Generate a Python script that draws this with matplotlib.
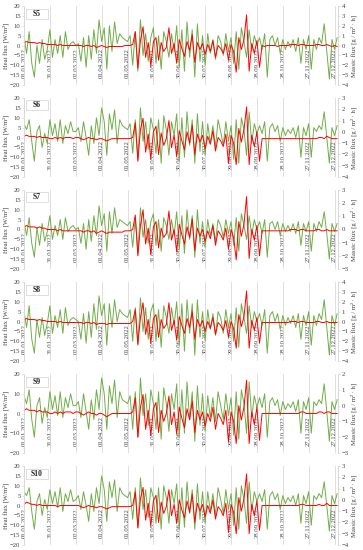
"""
Heat flux and massic flux for sensors S5-S10 over 2022 (six stacked panels).
"""

import matplotlib
matplotlib.use("Agg")
import matplotlib.pyplot as plt
import matplotlib.dates as mdates
import matplotlib.transforms as mtransforms
from matplotlib.patches import Rectangle
import pandas as pd

plt.rcParams["font.family"] = ["Liberation Serif", "DejaVu Serif"]

GREEN = "#70AD47"
RED = "#FF0000"
GRID = "#d9d9d9"
TEXT = "#404040"

# samples every third day of 2022
DAYS = pd.date_range("2022-01-01", periods=122, freq="3D")

TICK_LABELS = ["01.01.2022", "31.01.2022", "02.03.2022", "01.04.2022", "01.05.2022",
               "31.05.2022", "30.06.2022", "30.07.2022", "29.08.2022", "28.09.2022",
               "28.10.2022", "27.11.2022", "27.12.2022"]

SENSORS = ["S5", "S6", "S7", "S8", "S9", "S10"]

HEAT_S5 = [5, -4, 7, -9, -16, 0, -9, 3, -7, -2, 8,
           -6, 3, -4, 5, -6, 7, -2, 1, 2, 0,
           1, -8, 4, -11, 5, -7, 8, -4, 13, 2,
           9, -12, 10, -3, 12, 1, 6, 4, 3, 2,
           5, -10, 7, -13, 13, -5, 6, -8, 4, 9,
           -9, 5, -12, 7, 2, -6, 6, -3, 10, -11,
           8, -13, 12, -6, 8, -16, 11, -8, 5, -10,
           6, -4, 3, -7, 5, 2, -5, 6, -3, 4,
           -9, 7, -12, 9, 2, -6, 8, -3, 5, 0,
           4, -2, 6, -16, 3, 5, 0, 4, -4, 3,
           -2, 2, -1, 3, -3, 4, -9, 3, -2, 5,
           -12, 3, -2, 4, 1, 11, -3, -17, 3, -2, 4]
MASS_S5 = [0.3, 0.4, 0.3, 0.3, 0.3, 0.2, 0.3, 0.2, 0.2, 0.1, 0.1,
           0.1, 0.1, 0.0, 0.1, 0.0, 0.0, 0.0, 0.0, 0.0, 0.0,
           0.0, 0.0, -0.1, 0.0, 0.0, -0.1, 0.0, -0.2, -0.1, 0.0,
           -0.1, -0.2, -0.1, -0.1, -0.1, -0.1, -0.1, -0.1, 0.0, 0.0,
           0.0, 0.1, 1.4, -2.3, 0.5, 1.9, -1.2, 0.3, -2.1, 0.4,
           0.8, -1.5, 0.3, -0.6, -0.2, 1.8, -0.8, 0.2, -1.8, 0.6,
           -0.3, -1.1, 0.4, -0.5, 1.1, -1.7, 0.3, -0.4, 0.2, -0.9,
           0.1, -0.6, 0.5, -1.2, 0.0, -0.3, -0.8, 0.2, -1.5, 0.1,
           -0.6, -2.7, 0.8, -0.4, 0.6, 3.1, -2.6, 0.2, -0.8, 0.5,
           -2.2, 0.0, -0.1, 0.0, 0.0, 0.0, 0.0, -0.1, 0.0, 0.0,
           0.0, 0.0, 0.1, 0.1, 0.1, 0.0, 0.1, 0.1, 0.0, 0.0,
           0.0, 0.0, 0.1, 0.1, 0.0, 0.0, 0.1, 0.0, -0.1, 0.0, -0.1]

HEAT_S6 = [7, 4, 9, -2, -12, 3, 6, -5, 2, -3, 9,
           1, 7, -2, 9, -3, 6, 2, 8, 3, 3,
           5, -2, 8, 0, -9, 6, -3, 10, 1, 15,
           8, -9, 12, 4, 14, -3, 9, 6, 5, 4,
           7, -8, 9, -11, 15, -2, 8, -6, 10, 4,
           -8, 9, -13, 11, 4, -9, 8, 1, 12, -12,
           10, -10, 13, -4, 9, -13, 12, -7, 8, -9,
           7, -3, 6, -5, 9, 3, -4, 8, -2, 6,
           -11, 9, -13, 10, 4, -9, 13, -3, 7, 2,
           6, 2, 8, -12, 5, 7, 3, 6, -2, 5,
           1, 4, 2, 5, 0, 6, -10, 5, 1, 7,
           -10, 5, 3, 6, 4, 13, 0, -13, 5, 1, 6]
MASS_S6 = [-0.4, -0.3, -0.4, -0.4, -0.4, -0.5, -0.4, -0.5, -0.5, -0.5, -0.6,
           -0.6, -0.5, -0.6, -0.5, -0.6, -0.5, -0.5, -0.5, -0.6, -0.5,
           -0.5, -0.6, -0.7, -0.6, -0.5, -0.6, -0.6, -0.7, -0.6, -0.6,
           -0.7, -0.8, -0.7, -0.6, -0.6, -0.6, -0.6, -0.6, -0.6, -0.6,
           -0.6, -0.5, 0.8, -2.6, 0.2, 1.2, -1.8, -0.2, -2.4, 0.0,
           0.5, -2.0, -0.1, -1.2, -0.6, 1.0, -1.4, -0.3, -2.2, 0.1,
           -0.8, -1.6, 0.0, -1.0, 0.6, -2.0, -0.2, -0.9, -0.3, -1.5,
           -0.4, -1.1, 0.1, -1.7, -0.5, -0.8, -1.3, -0.2, -2.8, -0.3,
           -1.0, -2.9, 0.3, -0.9, 0.2, 2.2, -2.9, -0.3, -1.3, 0.0,
           -2.6, -0.6, -0.6, -0.6, -0.6, -0.6, -0.6, -0.6, -0.6, -0.6,
           -0.6, -0.6, -0.6, -0.6, -0.6, -0.6, -0.6, -0.6, -0.6, -0.6,
           -0.6, -0.6, -0.6, -0.5, -0.5, -0.6, -0.4, -0.5, -0.6, -0.6, -0.6]

HEAT_S7 = [4, -3, 6, -7, -14, 1, -8, 3, -6, -1, 7,
           -5, 2, -3, 5, -5, 6, -1, 1, 2, 0,
           1, -7, 3, -10, 5, -6, 7, -3, 12, 2,
           8, -11, 9, -2, 11, 1, 5, 4, 3, 2,
           4, -9, 6, -12, 11, -4, 5, -7, 4, 8,
           -8, 5, -11, 6, 2, -5, 5, -3, 9, -10,
           7, -12, 10, -5, 7, -14, 10, -7, 4, -9,
           5, -3, 3, -6, 5, 2, -4, 5, -2, 4,
           -8, 6, -11, 8, 2, -5, 7, -3, 5, 0,
           4, -2, 5, -14, 3, 4, 0, 4, -3, 3,
           -1, 2, -1, 3, -2, 4, -8, 3, -1, 4,
           -11, 3, -1, 4, 1, 9, -2, -15, 3, -1, 3]
MASS_S7 = [0.2, 0.3, 0.2, 0.2, 0.2, 0.1, 0.2, 0.1, 0.1, 0.0, 0.0,
           0.0, 0.0, -0.1, 0.0, -0.1, -0.1, -0.1, -0.1, -0.1, -0.1,
           -0.1, -0.1, -0.2, -0.1, -0.1, -0.2, -0.1, -0.3, -0.2, -0.1,
           -0.2, -0.3, -0.2, -0.2, -0.2, -0.2, -0.2, -0.2, -0.1, -0.1,
           -0.1, 0.0, 1.1, -2.0, 0.3, 1.5, -1.1, 0.1, -1.9, 0.2,
           0.6, -1.4, 0.1, -0.6, -0.3, 1.4, -0.8, 0.0, -1.7, 0.4,
           -0.4, -1.1, 0.2, -0.6, 0.8, -1.6, 0.1, -0.5, 0.0, -0.9,
           -0.1, -0.7, 0.3, -1.2, -0.1, -0.4, -0.8, 0.1, -1.5, 0.0,
           -0.6, -2.3, 0.6, -0.5, 0.4, 2.5, -2.2, 0.0, -0.8, 0.3,
           -2.0, -0.1, -0.1, -0.1, -0.1, -0.1, -0.1, -0.1, -0.1, -0.1,
           -0.1, -0.1, 0.0, 0.0, 0.0, -0.1, 0.0, 0.0, -0.1, -0.1,
           -0.1, -0.1, 0.0, 0.0, -0.1, -0.1, 0.0, -0.1, -0.1, -0.1, -0.1]

HEAT_S8 = [5, -3, 8, -9, -16, 1, -8, 2, -7, -1, 8,
           -6, 3, -3, 6, -6, 7, -2, 1, 2, 1,
           0, -9, 4, -11, 5, -8, 9, -4, 13, 3,
           9, -12, 9, -3, 11, 0, 6, 4, 3, 2,
           6, -10, 7, -12, 12, -5, 7, -9, 5, 9,
           -10, 6, -13, 8, 2, -6, 7, -2, 10, -12,
           9, -15, 11, -6, 9, -17, 11, -8, 5, -10,
           6, -4, 4, -7, 5, 2, -6, 6, -3, 4,
           -10, 7, -13, 9, 2, -6, 8, -3, 5, 0,
           4, -2, 6, -16, 3, 5, 0, 4, -4, 3,
           -2, 2, -1, 3, -3, 4, -9, 3, -2, 5,
           -12, 3, -2, 4, 1, 11, -3, -17, 3, -2, 4]
MASS_S8 = [0.2, 0.3, 0.2, 0.2, 0.2, 0.1, 0.2, 0.1, 0.1, 0.0, 0.0,
           0.0, 0.0, -0.1, 0.0, -0.1, -0.1, -0.1, -0.1, -0.1, -0.1,
           -0.1, -0.1, -0.2, -0.1, -0.1, -0.2, -0.1, -0.3, -0.2, -0.2,
           -0.2, -0.3, -0.2, -0.2, -0.2, -0.2, -0.2, -0.2, -0.2, -0.2,
           -0.2, 0.0, 1.2, -2.3, 0.4, 1.9, -1.3, 0.2, -2.2, 0.3,
           0.7, -1.6, 0.2, -0.7, -0.3, 1.9, -0.9, 0.1, -1.9, 0.5,
           -0.4, -1.2, 0.3, -0.6, 1.0, -1.8, 0.2, -0.5, 0.1, -1.0,
           0.0, -0.7, 0.4, -1.3, -0.1, -0.4, -0.9, 0.1, -1.6, 0.0,
           -0.7, -2.7, 0.7, -0.5, 0.5, 3.1, -2.7, 0.1, -0.9, 0.4,
           -2.2, -0.1, -0.1, -0.1, -0.1, -0.1, -0.1, -0.1, -0.1, -0.1,
           -0.1, -0.1, 0.0, 0.0, 0.0, -0.1, 0.0, 0.0, -0.1, -0.1,
           -0.1, -0.1, 0.0, 0.0, -0.1, -0.1, 0.0, -0.1, -0.1, -0.1, -0.1]

HEAT_S9 = [9, 5, 12, -3, -12, 4, 8, -5, 3, -2, 11,
           2, 9, -1, 11, -2, 8, 3, 10, 4, 4,
           6, -2, 10, 1, -8, 7, -3, 12, 2, 18,
           10, -8, 14, 5, 17, -2, 11, 7, 6, 5,
           9, -8, 11, -12, 18, -1, 10, -6, 12, 5,
           -8, 11, -13, 13, 5, -9, 10, 2, 15, -12,
           12, -10, 16, -3, 11, -14, 14, -6, 10, -9,
           9, -2, 8, -4, 11, 4, -3, 10, -1, 8,
           -11, 11, -13, 12, 5, -10, 16, -2, 9, 3,
           8, 3, 10, -12, 6, 8, 4, 7, -1, 6,
           2, 5, 3, 6, 1, 7, -10, 6, 2, 8,
           -10, 6, 4, 7, 5, 15, 1, -14, 6, 2, 7]
MASS_S9 = [-0.3, -0.2, -0.3, -0.3, -0.3, -0.4, -0.3, -0.4, -0.4, -0.4, -0.5,
           -0.5, -0.4, -0.5, -0.4, -0.5, -0.4, -0.4, -0.4, -0.5, -0.4,
           -0.4, -0.5, -0.6, -0.5, -0.4, -0.5, -0.5, -0.6, -0.5, -0.5,
           -0.6, -0.7, -0.6, -0.5, -0.5, -0.5, -0.5, -0.5, -0.5, -0.5,
           -0.5, -0.4, 0.5, -2.0, -0.1, 0.7, -1.5, -0.3, -1.9, -0.2,
           0.2, -1.7, -0.3, -1.0, -0.5, 0.6, -1.2, -0.4, -1.8, -0.1,
           -0.8, -1.4, -0.2, -0.9, 0.3, -1.7, -0.3, -0.9, -0.4, -1.3,
           -0.5, -1.0, -0.1, -1.5, -0.5, -0.8, -1.2, -0.3, -2.3, -0.4,
           -1.0, -2.4, 0.0, -0.9, -0.1, 1.6, -2.4, -0.4, -1.2, -0.1,
           -2.2, -0.5, -0.5, -0.5, -0.5, -0.5, -0.5, -0.5, -0.5, -0.5,
           -0.5, -0.5, -0.5, -0.5, -0.5, -0.5, -0.4, -0.4, -0.5, -0.5,
           -0.5, -0.5, -0.5, -0.4, -0.4, -0.5, -0.4, -0.4, -0.5, -0.5, -0.5]

HEAT_S10 = [7, 5, 9, -3, -12, 2, 6, -5, 3, -2, 8,
            1, 7, -1, 9, -3, 6, 2, 8, 2, 3,
            5, -2, 7, 0, -8, 6, -3, 9, 1, 15,
            8, -8, 12, 4, 13, -3, 9, 6, 5, 4,
            7, -7, 9, -11, 14, -2, 8, -6, 9, 4,
            -9, 9, -12, 10, 4, -9, 8, 1, 11, -12,
            9, -11, 12, -4, 8, -12, 11, -7, 7, -9,
            7, -3, 6, -5, 9, 3, -4, 8, -2, 6,
            -10, 9, -12, 10, 3, -9, 12, -3, 7, 2,
            6, 2, 8, -12, 5, 7, 3, 6, -2, 5,
            1, 4, 2, 5, 0, 6, -9, 5, 1, 7,
            -10, 5, 3, 6, 4, 12, 0, -13, 5, 1, 6]
MASS_S10 = [-0.4, -0.2, -0.3, -0.4, -0.4, -0.5, -0.4, -0.5, -0.5, -0.5, -0.5,
            -0.5, -0.5, -0.6, -0.5, -0.5, -0.5, -0.5, -0.5, -0.5, -0.5,
            -0.5, -0.6, -0.7, -0.6, -0.5, -0.6, -0.6, -0.7, -0.6, -0.6,
            -0.7, -0.8, -0.7, -0.6, -0.6, -0.6, -0.6, -0.6, -0.6, -0.6,
            -0.6, -0.5, 0.7, -2.5, 0.1, 1.1, -1.8, -0.3, -2.3, -0.1,
            0.4, -2.0, -0.2, -1.2, -0.6, 0.9, -1.4, -0.4, -2.1, 0.0,
            -0.9, -1.6, -0.1, -1.1, 0.5, -2.0, -0.3, -1.0, -0.4, -1.5,
            -0.5, -1.2, 0.0, -1.7, -0.6, -0.9, -1.4, -0.3, -2.9, -0.4,
            -1.1, -3.0, 0.2, -1.0, 0.1, 2.3, -3.0, -0.4, -1.4, -0.1,
            -2.7, -0.5, -0.5, -0.5, -0.5, -0.5, -0.5, -0.5, -0.5, -0.5,
            -0.5, -0.5, -0.5, -0.5, -0.5, -0.5, -0.4, -0.4, -0.5, -0.5,
            -0.5, -0.5, -0.5, -0.4, -0.5, -0.5, -0.3, -0.5, -0.5, -0.5, -0.5]

HEAT = [HEAT_S5, HEAT_S6, HEAT_S7, HEAT_S8, HEAT_S9, HEAT_S10]
MASS = [MASS_S5, MASS_S6, MASS_S7, MASS_S8, MASS_S9, MASS_S10]

# left axis tick step and right axis range per panel
HEAT_STEP = [5, 5, 5, 5, 10, 5]
MASS_LIM = [(-4, 4), (-4, 3), (-3, 3), (-4, 4), (-3, 2), (-4, 3)]

W, H = 363, 550
PANEL_LEFT, PANEL_WIDTH = 24, 314
PANEL_TOP0, PANEL_PITCH, PANEL_HEIGHT = 6, 92, 79
FS = 4.8


def style_spines(ax):
    for side in ("top", "bottom"):
        ax.spines[side].set_visible(False)
    for side in ("left", "right"):
        ax.spines[side].set_color(GRID)
        ax.spines[side].set_linewidth(0.6)


def draw_panel(fig, k):
    top = PANEL_TOP0 + k * PANEL_PITCH
    rect = [PANEL_LEFT / W, 1 - (top + PANEL_HEIGHT) / H, PANEL_WIDTH / W, PANEL_HEIGHT / H]
    ax = fig.add_axes(rect)
    ax2 = ax.twinx()

    tick_dates = pd.to_datetime(TICK_LABELS, format="%d.%m.%Y")
    ax.set_xlim(pd.Timestamp("2022-01-01"), pd.Timestamp("2022-12-31"))
    ax.set_xticks(tick_dates)
    ax.tick_params(axis="x", length=0, labelbottom=False)
    ax.grid(axis="x", color=GRID, linewidth=0.6)

    ax.plot(DAYS, HEAT[k], color=GREEN, linewidth=0.7)
    ax2.plot(DAYS, MASS[k], color=RED, linewidth=0.7)

    step = HEAT_STEP[k]
    ax.set_ylim(-20, 20)
    ax.set_yticks(range(-20, 21, step))
    lo, hi = MASS_LIM[k]
    ax2.set_ylim(lo, hi)
    ax2.set_yticks(range(lo, hi + 1))

    for a in (ax, ax2):
        style_spines(a)
        a.tick_params(axis="y", labelsize=FS, length=1.5, width=0.6,
                      color=GRID, labelcolor=TEXT, pad=1)

    ax.set_ylabel("Heat flux [W/m²]", fontsize=FS, color=TEXT, labelpad=0.5)
    ax2.set_ylabel("Massic flux [g / m² · h]", fontsize=FS, color=TEXT, labelpad=1.5)

    # date labels hang below the zero line, as the category axis crosses at 0
    trans = mtransforms.offset_copy(ax.transData, fig=fig, y=-2, units="points")
    for d, lab in zip(tick_dates, TICK_LABELS):
        ax.text(mdates.date2num(d), 0, lab, transform=trans, rotation=90,
                ha="center", va="top", fontsize=FS, color=TEXT, zorder=1)

    ax2.add_patch(Rectangle((1.5 / PANEL_WIDTH, 1 - 12.5 / PANEL_HEIGHT),
                            22 / PANEL_WIDTH, 10 / PANEL_HEIGHT,
                            transform=ax2.transAxes, facecolor="white",
                            edgecolor=GRID, linewidth=0.6, zorder=5))
    ax2.text(12.5 / PANEL_WIDTH, 1 - 7.5 / PANEL_HEIGHT, SENSORS[k],
             transform=ax2.transAxes, ha="center", va="center",
             fontsize=5.5, fontweight="bold", color="#262626", zorder=6)


def main():
    fig = plt.figure(figsize=(W / 100, H / 100), dpi=100)
    for k in range(len(SENSORS)):
        draw_panel(fig, k)
    fig.savefig("out.png", dpi=100)
    plt.close(fig)


if __name__ == "__main__":
    main()
